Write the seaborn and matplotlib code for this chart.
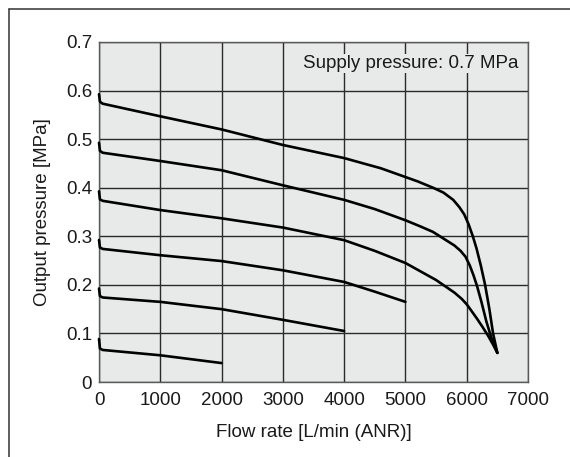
import matplotlib
matplotlib.use("Agg")
import matplotlib.pyplot as plt
import seaborn as sns
import pandas as pd
from matplotlib.lines import Line2D

# Flow-rate characteristics, one curve per set pressure (supply 0.7 MPa)
flow_06 = [0, 0, 15, 60, 1000, 2000, 3000, 4000, 4600, 5000, 5200, 5450, 5620, 5780, 5880,
           5960, 6030, 6100, 6160, 6230, 6300, 6370, 6430, 6500]
pres_06 = [0.6, 0.585, 0.577, 0.573, 0.547, 0.52, 0.488, 0.461, 0.44, 0.422, 0.413, 0.4, 0.39,
           0.375, 0.36, 0.345, 0.325, 0.3, 0.275, 0.24, 0.2, 0.15, 0.1, 0.06]

flow_05 = [0, 0, 15, 60, 1000, 2000, 3000, 4000, 4500, 5000, 5250, 5450, 5650, 5800, 5900,
           5980, 6050, 6110, 6170, 6240, 6320, 6400, 6500]
pres_05 = [0.5, 0.485, 0.476, 0.472, 0.455, 0.436, 0.405, 0.375, 0.356, 0.333, 0.32, 0.309,
           0.293, 0.281, 0.27, 0.258, 0.24, 0.22, 0.197, 0.165, 0.125, 0.092, 0.06]

flow_04 = [0, 0, 15, 60, 1000, 2000, 3000, 4000, 4500, 5000, 5500, 5800, 5920, 6000, 6080,
           6170, 6260, 6350, 6430, 6500]
pres_04 = [0.4, 0.385, 0.376, 0.373, 0.354, 0.337, 0.318, 0.292, 0.27, 0.245, 0.21, 0.184,
           0.171, 0.16, 0.146, 0.13, 0.113, 0.095, 0.077, 0.06]

flow_03 = [0, 0, 15, 60, 1000, 2000, 3000, 4000, 4500, 5000]
pres_03 = [0.3, 0.285, 0.277, 0.274, 0.261, 0.249, 0.23, 0.206, 0.186, 0.165]

flow_02 = [0, 0, 15, 60, 1000, 2000, 3000, 4000]
pres_02 = [0.2, 0.185, 0.177, 0.174, 0.165, 0.15, 0.128, 0.105]

flow_01 = [0, 0, 15, 60, 1000, 2000]
pres_01 = [0.1, 0.077, 0.069, 0.066, 0.055, 0.039]

x_ticks = [0, 1000, 2000, 3000, 4000, 5000, 6000, 7000]
y_ticks = [0, 0.1, 0.2, 0.3, 0.4, 0.5, 0.6, 0.7]
y_tick_labels = ["0", "0.1", "0.2", "0.3", "0.4", "0.5", "0.6", "0.7"]

curves = [(flow_06, pres_06), (flow_05, pres_05), (flow_04, pres_04),
          (flow_03, pres_03), (flow_02, pres_02), (flow_01, pres_01)]

sns.set_style("white")
plt.rcParams['font.family'] = ['Liberation Sans', 'DejaVu Sans']

fig = plt.figure(figsize=(5.7, 4.57), dpi=100)
ax = fig.add_axes([0.1737, 0.1641, 0.7526, 0.744])
ax.set_facecolor('#e8e9e9')

for flow, pres in curves:
    df = pd.DataFrame({'flow': flow, 'pressure': pres})
    sns.lineplot(data=df, x='flow', y='pressure', sort=False, color='black',
                 linewidth=1.9, ax=ax, zorder=3, clip_on=False)

ax.set_xlim(0, 7000)
ax.set_ylim(0, 0.7)
ax.set_xticks(x_ticks)
ax.set_yticks(y_ticks)
ax.set_yticklabels(y_tick_labels)
ax.grid(True, color='#2a2a2a', linewidth=1.0)
ax.set_axisbelow(True)
for s in ax.spines.values():
    s.set_color('#5a5a5a')
    s.set_linewidth(1.0)
ax.tick_params(axis='both', length=0, labelsize=13.5, colors='#1a1a1a')
ax.tick_params(axis='x', pad=7)
ax.tick_params(axis='y', pad=5)

ax.set_xlabel('Flow rate [L/min (ANR)]', fontsize=13.5, color='#1a1a1a', labelpad=11)
ax.set_ylabel('Output pressure [MPa]', fontsize=13.5, color='#1a1a1a', labelpad=11)

ax.text(0.978, 0.962, 'Supply pressure: 0.7 MPa', transform=ax.transAxes,
        ha='right', va='top', fontsize=13.5, color='#1a1a1a', zorder=4,
        bbox=dict(facecolor='#e8e9e9', edgecolor='none', pad=1))

# outer frame (cropped at right and bottom)
fx = 9 / 570
fy = 1 - 9 / 457
fig.add_artist(Line2D([fx, fx], [0, fy], color='#333333', linewidth=1.1))
fig.add_artist(Line2D([fx, 1], [fy, fy], color='#333333', linewidth=1.1))

fig.savefig('out.png', dpi=100)
